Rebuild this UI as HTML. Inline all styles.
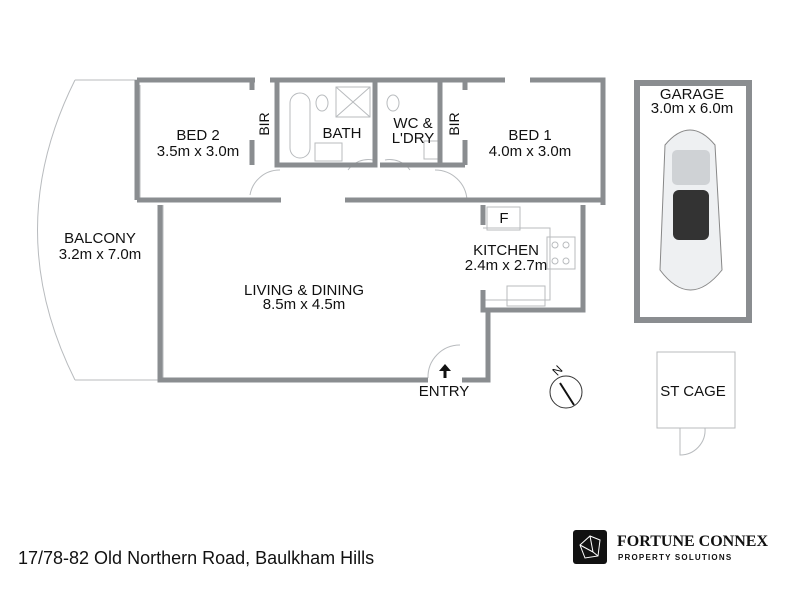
<!DOCTYPE html>
<html><head><style>body{margin:0;background:#fff}svg{display:block}text{font-family:"Liberation Sans",sans-serif;fill:#111}</style></head><body>
<svg width="800" height="600" viewBox="0 0 800 600">
<g stroke="#b8bbbe" stroke-width="1" fill="none">
<path d="M75 80 Q0 230 75 380"/><line x1="75" y1="80" x2="137" y2="80"/><line x1="75" y1="380" x2="160" y2="380"/>
<line x1="140" y1="85" x2="140" y2="198"/><line x1="163" y1="205" x2="163" y2="378"/>
<path d="M250 195 A30 30 0 0 1 280 170"/><path d="M435 170 A32 32 0 0 1 467 200"/>
<path d="M348 170 A25 25 0 0 1 373 160"/><path d="M385 160 A25 25 0 0 1 410 170"/>
<path d="M428 378 A32 32 0 0 1 460 345"/>
<line x1="487" y1="312" x2="487" y2="378"/>
<rect x="290" y="93" width="20" height="65" rx="10"/><rect x="336" y="87" width="34" height="30"/>
<line x1="336" y1="87" x2="370" y2="117"/><line x1="370" y1="87" x2="336" y2="117"/>
<ellipse cx="322" cy="103" rx="6" ry="8"/><ellipse cx="393" cy="103" rx="6" ry="8"/>
<rect x="315" y="143" width="27" height="18"/><rect x="424" y="141" width="16" height="18"/>
<rect x="487" y="207" width="33" height="23"/><path d="M483 228 H550 V300 H483"/>
<rect x="547" y="237" width="28" height="32"/><circle cx="555" cy="245" r="3"/><circle cx="566" cy="245" r="3"/><circle cx="555" cy="261" r="3"/><circle cx="566" cy="261" r="3"/>
<rect x="507" y="286" width="38" height="20"/>
<rect x="657" y="352" width="78" height="76"/><path d="M680 428 V455 A25 25 0 0 0 705 428"/>
</g>
<g stroke="#8a8d90" stroke-width="5" fill="none">
<path d="M137 80 H255 M270 80 H505 M530 80 H603 V205"/>
<line x1="137" y1="80" x2="137" y2="200"/>
<path d="M137 200 H281 M345 200 H603"/>
<path d="M160 205 V380 H428 M462 380 H488 V310"/>
<path d="M483 205 V225 M483 290 V310 H583 V205"/>
<path d="M252 80 V90 M252 140 V165 M277 80 V165 H375 V80 M375 165 V150 M440 80 V165 H380 M465 80 V90 M465 140 V165 M440 165 H465"/>
</g>
<rect x="637" y="83" width="112" height="237" fill="none" stroke="#8a8d90" stroke-width="6"/>
<g>
<path d="M665 145 Q690 115 715 145 L722 270 Q690 310 660 270 Z" fill="#eef0f2" stroke="#888"/>
<rect x="673" y="190" width="36" height="50" rx="6" fill="#333"/>
<rect x="672" y="150" width="38" height="35" rx="5" fill="#cfd2d5"/>
</g>
<line x1="445" y1="378" x2="445" y2="370" stroke="#111" stroke-width="3"/><path d="M439 371 L445 364 L451 371Z" fill="#111"/>
<circle cx="566" cy="392" r="16" fill="none" stroke="#333"/><line x1="560" y1="383" x2="574" y2="405" stroke="#111" stroke-width="2"/>
<text x="553" y="374" font-size="12" transform="rotate(-45 558 370)">N</text>
<g font-size="15" text-anchor="middle">
<text x="100" y="243">BALCONY</text><text x="100" y="259">3.2m x 7.0m</text>
<text x="198" y="140">BED 2</text><text x="198" y="156">3.5m x 3.0m</text>
<text x="342" y="138">BATH</text>
<text x="413" y="128">WC &amp;</text><text x="413" y="143">L'DRY</text>
<text x="530" y="140">BED 1</text><text x="530" y="156">4.0m x 3.0m</text>
<text x="504" y="223">F</text>
<text x="506" y="255">KITCHEN</text>
<text x="506" y="270">2.4m x 2.7m</text>
<text x="304" y="295">LIVING &amp; DINING</text><text x="304" y="309">8.5m x 4.5m</text>
<text x="444" y="396">ENTRY</text>
<text x="692" y="99">GARAGE</text><text x="692" y="113">3.0m x 6.0m</text>
<text x="693" y="396">ST CAGE</text>
</g>
<g font-size="14" text-anchor="middle">
<text transform="translate(269 124) rotate(-90)">BIR</text>
<text transform="translate(459 124) rotate(-90)">BIR</text>
</g>
<text x="18" y="564" font-size="18">17/78-82 Old Northern Road, Baulkham Hills</text>
<rect x="573" y="530" width="34" height="34" rx="3" fill="#111"/>
<path d="M580 545 L590 536 L600 540 L598 556 L585 558 Z M590 536 L593 552 L598 556 M580 545 L593 552" stroke="#fff" fill="none" stroke-width="1"/>
<text x="617" y="546" font-size="16" font-weight="bold" style="font-family:'Liberation Serif',serif">FORTUNE CONNEX</text>
<text x="618" y="560" font-size="8" font-weight="bold" letter-spacing="1.2">PROPERTY SOLUTIONS</text>
</svg>
</body></html>
